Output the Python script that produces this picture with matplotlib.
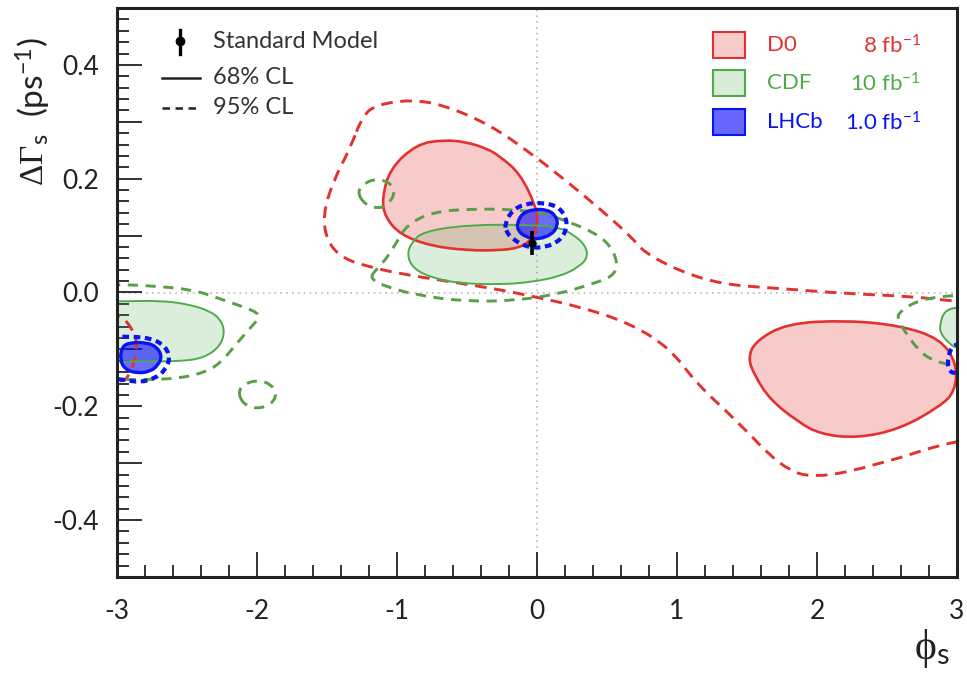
import numpy as np
import matplotlib as mp
import matplotlib.pyplot as plot
from matplotlib.path import Path
from matplotlib.patches import PathPatch, Rectangle
from matplotlib.lines import Line2D
from matplotlib.ticker import MultipleLocator, FuncFormatter

mp.rcParams.update({
    "mathtext.fontset": "custom",
    "mathtext.rm": "Liberation Serif",
    "mathtext.it": "Liberation Serif:italic",
    "mathtext.sf": "Lato",
    "axes.unicode_minus": False,
    "font.family": ["Lato", "DejaVu Sans"],
})

W, H = 967, 682

red = "#e3312f"
red_fill = (0.89, 0.19, 0.18, 0.25)
green = "#4faa4c"
green_dash = "#5a9e47"
green_fill = (0.31, 0.67, 0.30, 0.20)
blue = "#0a14f0"
blue_fill = (0.0, 0.0, 1.0, 0.58)

# contour outlines, (phi_s, dGamma_s) vertices
d0_68_a = [(-0.671, 0.268), (-0.857, 0.261), (-1.05, 0.218), (-1.107, 0.165), (-1.086, 0.133),
           (-0.979, 0.102), (-0.764, 0.082), (-0.5, 0.074), (-0.264, 0.074), (-0.121, 0.079),
           (-0.036, 0.093), (0.007, 0.121), (-0.007, 0.151), (-0.121, 0.209), (-0.264, 0.239),
           (-0.357, 0.253), (-0.514, 0.265)]
d0_68_b = [(1.507, -0.116), (1.557, -0.086), (1.786, -0.054), (2.214, -0.049), (2.593, -0.058),
           (2.879, -0.081), (3.0, -0.125), (2.986, -0.174), (2.879, -0.2), (2.593, -0.24),
           (2.286, -0.256), (2.021, -0.249), (1.857, -0.226), (1.664, -0.188), (1.557, -0.147)]
d0_95_a = [(-1.243, 0.312), (-1.143, 0.330), (-0.907, 0.339), (-0.671, 0.330), (-0.336, 0.295),
           (-0.029, 0.242), (0.214, 0.195), (0.45, 0.147), (0.686, 0.095), (0.757, 0.072),
           (1.021, 0.037), (1.329, 0.014), (1.736, 0.007), (2.214, -0.002), (2.686, -0.007),
           (3.0, -0.016), (3.3, -0.02), (3.3, -0.26), (3.0, -0.258), (2.45, -0.302),
           (1.971, -0.328), (1.736, -0.305), (1.429, -0.226), (1.143, -0.161), (0.95, -0.098),
           (0.664, -0.054), (0.307, -0.025), (-0.029, -0.007), (-0.264, 0.005), (-0.621, 0.019),
           (-0.979, 0.033), (-1.214, 0.046), (-1.386, 0.06), (-1.5, 0.089), (-1.529, 0.137),
           (-1.457, 0.195), (-1.336, 0.253)]
d0_95_b = [(-3.3, -0.035), (-2.979, -0.039), (-2.921, -0.054), (-2.886, -0.068), (-2.857, -0.086),
           (-2.871, -0.116), (-2.893, -0.133), (-2.929, -0.151), (-2.957, -0.156), (-3.3, -0.16)]

cdf_68_a = [(-0.929, 0.067), (-0.893, 0.089), (-0.814, 0.107), (-0.5, 0.119), (-0.029, 0.119),
            (0.164, 0.114), (0.257, 0.102), (0.343, 0.084), (0.364, 0.063), (0.307, 0.046),
            (0.164, 0.028), (-0.05, 0.018), (-0.264, 0.014), (-0.55, 0.016), (-0.743, 0.025),
            (-0.886, 0.042)]
cdf_68_b = [(-3.3, -0.014), (-3.0, -0.016), (-2.693, -0.014), (-2.479, -0.021), (-2.336, -0.033),
            (-2.264, -0.046), (-2.229, -0.068), (-2.264, -0.095), (-2.386, -0.116), (-2.571, -0.121),
            (-2.764, -0.121), (-3.0, -0.121), (-3.3, -0.121)]
cdf_68_c = [(2.879, -0.056), (2.907, -0.033), (3.0, -0.025), (3.3, -0.025), (3.3, -0.1),
            (3.0, -0.1), (2.929, -0.086), (2.879, -0.07)]
cdf_95_a = [(-1.179, 0.033), (-1.1, 0.051), (-1.0, 0.089), (-0.929, 0.119), (-0.743, 0.142),
            (-0.457, 0.147), (-0.171, 0.146), (0.057, 0.139), (0.214, 0.125), (0.4, 0.107),
            (0.521, 0.084), (0.579, 0.051), (0.543, 0.028), (0.379, 0.014), (0.164, -0.002),
            (-0.143, -0.014), (-0.5, -0.016), (-0.857, -0.005), (-1.1, 0.012), (-1.179, 0.023)]
cdf_95_b = [(-1.286, 0.177), (-1.229, 0.193), (-1.143, 0.2), (-1.05, 0.193), (-1.014, 0.177),
            (-1.05, 0.158), (-1.121, 0.147), (-1.229, 0.154)]
cdf_95_c = [(-2.136, -0.174), (-2.086, -0.16), (-1.993, -0.154), (-1.907, -0.16), (-1.857, -0.177),
            (-1.893, -0.196), (-2.0, -0.205), (-2.1, -0.196)]
cdf_95_d = [(-3.3, 0.014), (-3.0, 0.014), (-2.764, 0.012), (-2.457, 0.005), (-2.264, -0.011),
            (-2.1, -0.025), (-1.964, -0.039), (-2.05, -0.063), (-2.143, -0.089), (-2.264, -0.125),
            (-2.386, -0.142), (-2.571, -0.151), (-2.764, -0.153), (-3.0, -0.153), (-3.3, -0.153)]
cdf_95_e = [(3.3, -0.004), (3.0, -0.004), (2.736, -0.012), (2.593, -0.033), (2.571, -0.046),
            (2.643, -0.074), (2.714, -0.098), (2.807, -0.118), (2.929, -0.126), (3.0, -0.128),
            (3.3, -0.128)]

lhcb_68_a = [(-0.143, 0.121), (-0.107, 0.139), (-0.029, 0.146), (0.071, 0.146), (0.136, 0.135),
             (0.15, 0.118), (0.107, 0.102), (0.007, 0.093), (-0.086, 0.098), (-0.136, 0.109)]
lhcb_68_b = [(-2.964, -0.095), (-2.907, -0.088), (-2.786, -0.088), (-2.714, -0.096), (-2.679, -0.112),
             (-2.707, -0.128), (-2.764, -0.139), (-2.857, -0.142), (-2.943, -0.135), (-2.979, -0.118)]
lhcb_95_a = [(-0.229, 0.121), (-0.179, 0.144), (-0.086, 0.156), (0.043, 0.158), (0.15, 0.151),
             (0.207, 0.133), (0.214, 0.112), (0.164, 0.091), (0.057, 0.079), (-0.064, 0.079),
             (-0.171, 0.093), (-0.221, 0.107)]
lhcb_95_b = [(-3.1, -0.079), (-2.907, -0.077), (-2.743, -0.081), (-2.65, -0.096), (-2.621, -0.116),
             (-2.657, -0.137), (-2.729, -0.151), (-2.836, -0.158), (-2.957, -0.153), (-3.1, -0.15)]
lhcb_95_c = [(3.2, -0.089), (3.0, -0.089), (2.95, -0.1), (2.93, -0.125), (2.95, -0.14),
             (3.0, -0.142), (3.2, -0.142)]

# Standard Model prediction
sm_phi, sm_dg, sm_err = -0.036, 0.087, 0.021

xticks = [-3, -2, -1, 0, 1, 2, 3]


def smooth_path(pts):
    p = np.asarray(pts, float)
    mid = (p + np.roll(p, -1, axis=0)) / 2
    verts = [mid[-1]]
    codes = [Path.MOVETO]
    for i in range(len(p)):
        verts += [p[i], mid[i]]
        codes += [Path.CURVE3, Path.CURVE3]
    return Path(verts, codes)


def region(ax, pts, fc, ec, lw, ls, z):
    ax.add_patch(PathPatch(smooth_path(pts), facecolor=fc, edgecolor="none", zorder=z))
    ax.add_patch(PathPatch(smooth_path(pts), facecolor="none", edgecolor=ec,
                           linewidth=lw, linestyle=ls, zorder=z + 3))


fig = plot.figure(figsize=(W / 100, H / 100), dpi=100)
ax = fig.add_axes([117 / W, 1 - 577 / H, 840 / W, 569 / H])
ax.set_xlim(-3, 3)
ax.set_ylim(-0.5, 0.5)

ax.axhline(0, color="#b8b8b8", lw=1.2, ls=(0, (1, 2.5)), zorder=1)
ax.axvline(0, color="#b8b8b8", lw=1.2, ls=(0, (1, 2.5)), zorder=1)

solid = "-"
red_dash = (0, (4, 2.6))
grn_dash = (0, (3.5, 2.6))
blu_dash = (0, (1.6, 1.1))

for pts in (d0_68_a, d0_68_b):
    region(ax, pts, red_fill, red, 1.9, solid, 2)
for pts in (d0_95_a, d0_95_b):
    region(ax, pts, "none", red, 2.1, red_dash, 2)
for pts in (cdf_68_a, cdf_68_b, cdf_68_c):
    region(ax, pts, green_fill, green, 1.4, solid, 3)
for pts in (cdf_95_a, cdf_95_b, cdf_95_c, cdf_95_d, cdf_95_e):
    region(ax, pts, "none", green_dash, 2.1, grn_dash, 3)
for pts in (lhcb_68_a, lhcb_68_b):
    region(ax, pts, blue_fill, blue, 2.4, solid, 4)
for pts in (lhcb_95_a, lhcb_95_b, lhcb_95_c):
    region(ax, pts, "none", blue, 3.0, blu_dash, 4)

ax.errorbar([sm_phi], [sm_dg], yerr=[sm_err], fmt="o", color="black", ms=5,
            elinewidth=2.6, capsize=0, zorder=10)

# axes and ticks
for s in ax.spines.values():
    s.set_linewidth(2.2)
    s.set_color("#222222")
    s.set_zorder(12)
ax.set_xticks(xticks)
ax.xaxis.set_minor_locator(MultipleLocator(0.2))
ax.yaxis.set_major_locator(MultipleLocator(0.1))
ax.yaxis.set_minor_locator(MultipleLocator(0.02))
ax.xaxis.set_major_formatter(FuncFormatter(lambda v, p: "%d" % round(v)))
ax.yaxis.set_major_formatter(FuncFormatter(
    lambda v, p: ("%.1f" % v if round(v * 10) % 2 == 0 else "").replace("-0.0", "0.0")))
ax.tick_params(which="major", direction="in", length=18, width=1.3, color="#222222",
               top=False, right=False)
ax.tick_params(which="minor", direction="in", length=8.5, width=1.3, color="#222222",
               top=False, right=False)
ax.tick_params(axis="y", pad=13, labelsize=19)
ax.tick_params(axis="x", pad=16, labelsize=19)
for lab in ax.get_xticklabels() + ax.get_yticklabels():
    lab.set_color("#222222")

fig.text(33 / W, 1 - 112 / H, r"$\mathrm{\Delta\Gamma}_{\mathsf{s}}$  (ps$^{\mathsf{-1}}$)",
         rotation=90, ha="center", va="center", fontsize=24, color="#222222")
fig.text(932 / W, 1 - 648 / H, r"$\mathrm{\phi}_{\mathsf{s}}$", ha="center", va="center",
         fontsize=30, color="#222222")


def fx(px):
    return px / W


def fy(py):
    return 1 - py / H


# left key
fig.add_artist(Line2D([fx(180), fx(180)], [fy(30), fy(54)], color="black", lw=2.4,
                      transform=fig.transFigure))
fig.add_artist(Line2D([fx(180)], [fy(41)], color="black", marker="o", ms=6,
                      transform=fig.transFigure))
fig.add_artist(Line2D([fx(162), fx(200)], [fy(78), fy(78)], color="#222222", lw=1.8,
                      transform=fig.transFigure))
fig.add_artist(Line2D([fx(162), fx(200)], [fy(108), fy(108)], color="#222222", lw=1.8,
                      ls=(0, (3, 2.2)), transform=fig.transFigure))
for py, txt in ((42, "Standard Model"), (78, "68% CL"), (108, "95% CL")):
    fig.text(fx(213), fy(py), txt, fontsize=17, color="#333333", va="center", ha="left")

# right key
key_rows = [
    (45, (0.89, 0.19, 0.18, 0.25), red, "D0", r"8 fb$^{\mathsf{-1}}$"),
    (83, (0.31, 0.67, 0.30, 0.22), green, "CDF", r"10 fb$^{\mathsf{-1}}$"),
    (122, (0.0, 0.0, 1.0, 0.6), blue, "LHCb", r"1.0 fb$^{\mathsf{-1}}$"),
]
for py, fc, ec, name, lumi in key_rows:
    fig.add_artist(Rectangle((fx(713), fy(py + 13)), 32 / W, 26 / H, facecolor=fc,
                             edgecolor=ec, lw=1.5, transform=fig.transFigure))
    fig.text(fx(767), fy(py), name, fontsize=16, color=ec, va="center", ha="left")
    fig.text(fx(921), fy(py), lumi, fontsize=16, color=ec, va="center", ha="right")

fig.savefig("out.png", dpi=100)
